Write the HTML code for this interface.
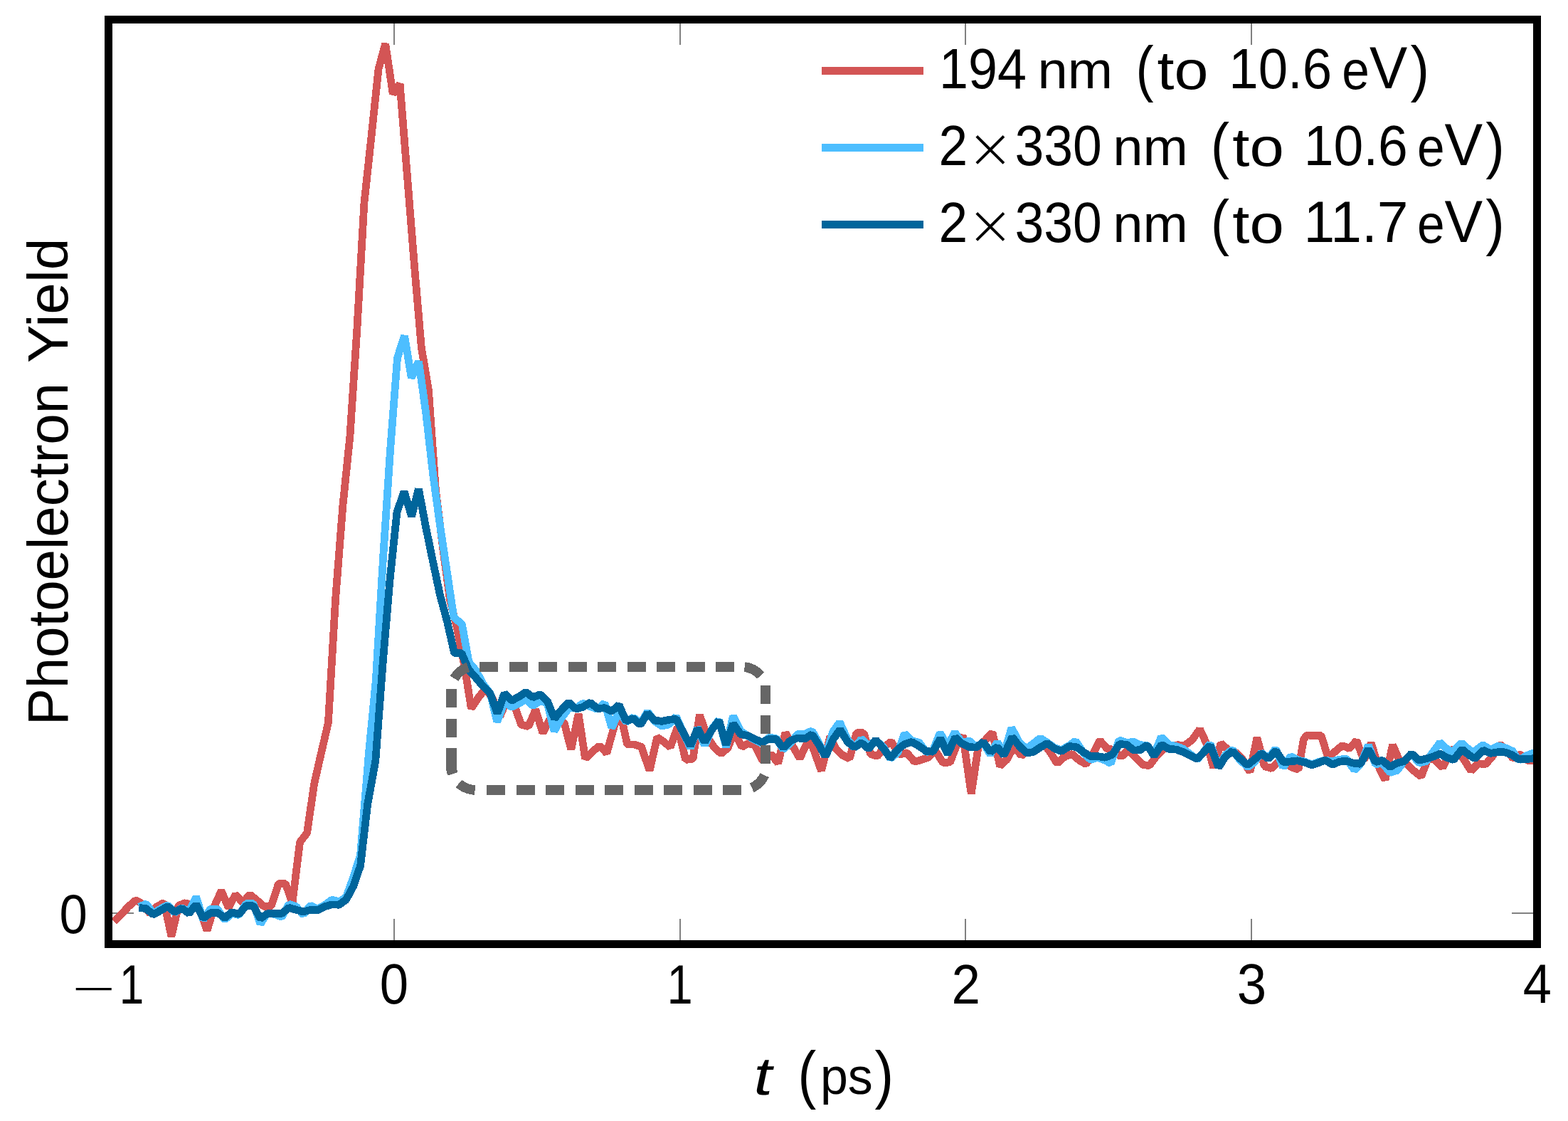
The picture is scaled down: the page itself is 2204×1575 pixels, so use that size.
<!DOCTYPE html>
<html lang="en"><head><meta charset="utf-8"><title>Photoelectron Yield</title>
<style>
html,body{margin:0;padding:0;background:#ffffff}
body{width:2204px;height:1575px}
svg{display:block}
path,rect{shape-rendering:crispEdges}
text{font-family:"Liberation Sans",sans-serif;fill:#000}
.lt{font-family:"DejaVu Sans","Liberation Sans",sans-serif;font-weight:200}
</style></head><body>
<svg width="2204" height="1575" viewBox="0 0 2204 1575">
<rect x="0" y="0" width="2204" height="1575" fill="#ffffff"/>
<path d="M554.00 1326.4 V1291.1 M554.00 27.4 V62.7 M955.60 1326.4 V1291.1 M955.60 27.4 V62.7 M1357.20 1326.4 V1291.1 M1357.20 27.4 V62.7 M1758.80 1326.4 V1291.1 M1758.80 27.4 V62.7 M152.4 1282.8 H187.7 M2160.4 1282.8 H2125.1" stroke="#808080" stroke-width="1.8" fill="none"/>
<path d="M160.5 1294.7 L170.5 1284.5 L180.6 1273.7 L190.6 1264.7 L200.7 1270.3 L210.7 1283.4 L220.8 1273.7 L230.8 1268.1 L240.9 1315.7 L250.8 1272.6 L260.9 1268.4 L270.9 1273.7 L281.0 1277.1 L291.0 1307.8 L301.1 1273.7 L311.1 1251.6 L321.2 1275.4 L331.1 1256.7 L341.2 1268.1 L351.3 1256.7 L361.3 1265.0 L371.4 1273.7 L381.4 1272.6 L391.5 1241.4 L401.4 1241.4 L410.9 1269.2 L421.5 1183.3 L431.6 1170.3 L441.6 1101.6 L451.6 1057.6 L461.4 1015.4 L471.7 840.6 L481.8 711.3 L491.9 613.3 L501.8 463.7 L511.9 285.4 L522.0 191.8 L532.0 97.2 L541.7 61.5 L552.3 132.0 L562.1 118.1 L572.2 244.2 L582.3 371.1 L592.3 488.1 L602.4 548.0 L612.5 689.1 L622.5 769.8 L632.6 843.3 L642.7 884.0 L652.8 935.1 L662.4 995.4 L672.5 980.1 L682.5 967.6 L692.6 981.8 L702.6 1006.8 L712.7 983.5 L722.8 990.9 L732.7 1018.1 L742.8 1020.7 L752.8 997.1 L762.9 1029.8 L772.9 1010.7 L783.0 1010.7 L793.0 1015.3 L802.8 1053.1 L813.1 1003.1 L822.6 1065.8 L832.6 1056.4 L842.6 1047.6 L852.8 1058.3 L861.1 1028.6 L870.7 995.8 L881.7 1046.1 L891.6 1046.1 L901.5 1049.2 L913.1 1082.7 L923.7 1035.8 L933.0 1042.2 L942.2 1049.6 L952.4 1021.8 L963.8 1067.5 L974.0 1066.1 L983.4 1004.2 L993.3 1033.7 L1003.5 1049.6 L1013.7 1058.9 L1023.3 1050.7 L1032.4 1026.9 L1042.6 1049.6 L1051.7 1044.5 L1061.3 1047.3 L1072.1 1068.9 L1084.0 1059.8 L1093.7 1072.3 L1103.9 1029.4 L1114.2 1048.3 L1124.2 1065.3 L1138.0 1036.9 L1145.4 1057.9 L1154.4 1082.9 L1166.9 1034.7 L1174.9 1051.7 L1183.9 1060.7 L1194.1 1065.8 L1203.8 1029.8 L1214.0 1029.8 L1223.6 1059.6 L1233.3 1062.4 L1243.1 1049.4 L1252.6 1041.7 L1263.9 1060.2 L1274.7 1057.6 L1285.5 1070.4 L1295.1 1067.5 L1304.7 1064.1 L1314.4 1053.9 L1325.2 1071.5 L1335.4 1071.0 L1343.9 1049.4 L1353.4 1033.5 L1365.2 1115.3 L1375.2 1049.0 L1384.8 1039.9 L1395.0 1029.1 L1405.6 1076.4 L1415.4 1067.1 L1425.1 1049.0 L1435.8 1061.7 L1445.5 1053.5 L1455.7 1044.4 L1465.9 1043.3 L1475.5 1055.8 L1485.8 1072.6 L1497.1 1062.6 L1507.3 1059.4 L1517.0 1068.3 L1526.6 1073.7 L1536.2 1059.2 L1545.9 1040.1 L1556.1 1051.8 L1565.7 1053.5 L1575.9 1063.5 L1586.1 1053.5 L1595.9 1063.7 L1606.1 1074.5 L1615.7 1075.6 L1625.4 1062.6 L1635.0 1052.4 L1644.7 1049.6 L1654.9 1046.7 L1665.1 1047.3 L1675.3 1039.9 L1686.6 1024.6 L1696.8 1046.7 L1705.9 1079.0 L1716.1 1044.2 L1726.3 1053.5 L1736.5 1056.9 L1746.7 1067.1 L1757.0 1084.7 L1766.9 1036.5 L1777.4 1076.8 L1787.6 1079.6 L1797.2 1069.4 L1806.9 1071.7 L1816.5 1078.5 L1825.0 1081.3 L1832.4 1038.8 L1837.0 1032.9 L1846.7 1033.7 L1856.9 1032.9 L1867.1 1064.9 L1876.7 1055.8 L1886.9 1047.3 L1896.6 1051.8 L1906.8 1040.5 L1917.0 1068.3 L1927.2 1043.9 L1937.4 1076.2 L1947.0 1095.7 L1957.5 1046.5 L1967.5 1069.4 L1977.7 1073.9 L1987.3 1083.0 L1997.5 1091.2 L2007.7 1064.9 L2017.9 1068.3 L2027.8 1078.2 L2035.5 1062.6 L2041.8 1051.5 L2048.9 1057.6 L2057.8 1067.3 L2067.6 1082.9 L2077.8 1072.7 L2088.0 1074.0 L2097.8 1062.9 L2108.4 1045.6 L2117.3 1054.0 L2126.7 1065.6 L2136.9 1059.8 L2148.4 1069.1 L2160.0 1068.2" stroke="#D35555" stroke-width="10.75" fill="none" stroke-linejoin="bevel" stroke-linecap="butt"/>
<path d="M195.4 1274.3 L205.4 1269.8 L215.4 1283.4 L225.4 1277.1 L235.5 1271.5 L245.5 1282.2 L255.6 1275.4 L265.6 1281.7 L275.7 1260.1 L285.7 1292.4 L295.8 1277.1 L305.7 1277.1 L315.8 1292.4 L325.8 1283.4 L335.9 1285.6 L345.9 1269.8 L356.0 1269.2 L366.0 1298.1 L376.1 1282.8 L386.0 1284.5 L396.1 1288.5 L406.2 1270.3 L416.3 1273.7 L426.3 1285.1 L436.4 1272.0 L446.4 1277.1 L456.5 1271.5 L466.4 1264.1 L476.5 1266.9 L486.5 1260.7 L496.6 1232.9 L506.6 1201.1 L518.3 1059.6 L528.3 956.2 L538.4 786.1 L548.5 633.3 L558.6 502.4 L568.6 471.8 L578.3 531.0 L588.5 507.8 L598.6 579.3 L608.7 667.0 L618.7 739.8 L628.8 806.5 L637.8 867.0 L649.4 877.2 L659.0 930.3 L669.1 942.1 L679.2 961.4 L689.2 974.6 L698.8 1014.1 L709.0 986.9 L719.1 993.2 L729.1 988.6 L739.1 982.4 L749.2 991.5 L759.3 984.7 L769.4 988.1 L779.0 1027.2 L789.5 1008.5 L799.6 994.9 L809.7 994.9 L819.6 988.1 L829.7 992.6 L839.8 996.6 L849.9 987.8 L860.0 1022.7 L870.0 999.4 L880.1 1014.4 L890.1 1007.9 L900.2 1016.7 L910.2 999.9 L920.2 1013.3 L930.3 1020.1 L940.4 1017.8 L950.4 1006.8 L960.5 1029.8 L970.5 1050.7 L980.6 1022.4 L990.6 1047.3 L1000.7 1024.1 L1010.6 1011.4 L1020.7 1049.6 L1030.4 1005.9 L1040.8 1026.9 L1050.8 1034.0 L1060.9 1039.4 L1071.0 1044.5 L1081.0 1036.2 L1091.1 1037.4 L1101.0 1053.0 L1111.1 1043.9 L1121.2 1031.3 L1131.2 1031.3 L1141.3 1026.7 L1151.4 1044.3 L1160.1 1063.0 L1170.9 1027.8 L1180.3 1014.8 L1191.5 1039.2 L1201.0 1050.8 L1210.9 1038.1 L1221.1 1048.3 L1231.0 1040.3 L1241.8 1049.4 L1251.4 1065.8 L1261.9 1057.3 L1271.5 1030.7 L1281.5 1040.9 L1292.0 1043.2 L1302.1 1056.8 L1311.5 1054.5 L1321.4 1029.6 L1331.6 1048.3 L1342.2 1029.0 L1352.4 1043.7 L1362.5 1040.7 L1372.4 1049.6 L1382.0 1043.3 L1392.0 1060.1 L1401.8 1042.4 L1411.2 1059.2 L1421.9 1022.7 L1432.8 1043.3 L1442.9 1051.8 L1452.9 1044.2 L1462.3 1037.1 L1472.1 1043.3 L1482.4 1050.7 L1492.0 1053.7 L1503.1 1047.3 L1511.8 1041.0 L1523.2 1058.1 L1533.1 1067.4 L1543.4 1064.3 L1553.4 1068.3 L1561.2 1072.6 L1573.1 1039.7 L1583.5 1043.3 L1593.6 1042.4 L1602.7 1046.7 L1612.3 1047.3 L1622.2 1059.8 L1632.4 1035.1 L1643.0 1046.7 L1653.2 1048.4 L1663.4 1052.4 L1673.6 1060.1 L1683.0 1067.1 L1691.7 1056.7 L1701.1 1044.7 L1712.9 1077.6 L1722.4 1060.9 L1732.0 1053.0 L1742.8 1067.7 L1754.1 1077.9 L1763.2 1070.8 L1772.8 1057.5 L1783.0 1065.4 L1793.2 1051.8 L1803.7 1078.2 L1814.2 1062.6 L1823.9 1067.7 L1833.6 1070.0 L1843.8 1074.2 L1853.5 1070.3 L1862.5 1068.3 L1873.3 1069.6 L1883.0 1067.1 L1892.6 1066.2 L1903.9 1082.1 L1913.6 1071.7 L1923.4 1047.1 L1933.4 1073.9 L1943.1 1071.9 L1953.8 1085.5 L1964.1 1082.4 L1974.3 1068.3 L1983.9 1059.4 L1994.7 1071.9 L2004.9 1069.6 L2014.5 1056.4 L2024.2 1043.1 L2033.2 1051.8 L2041.2 1056.4 L2054.2 1043.8 L2062.7 1051.3 L2070.7 1057.1 L2084.3 1046.7 L2094.9 1053.3 L2106.2 1047.8 L2116.4 1050.9 L2126.2 1055.3 L2134.7 1068.0 L2144.9 1062.0 L2160.0 1056.2" stroke="#4DBEFF" stroke-width="10.75" fill="none" stroke-linejoin="bevel" stroke-linecap="butt"/>
<path d="M195.4 1275.4 L205.4 1276.6 L215.4 1285.1 L225.4 1279.4 L235.5 1273.7 L245.5 1281.1 L255.6 1276.2 L265.6 1283.4 L275.7 1270.9 L285.7 1290.2 L295.8 1282.8 L305.7 1282.2 L315.8 1289.6 L325.8 1281.7 L335.9 1284.5 L345.9 1272.6 L356.0 1272.6 L366.0 1290.7 L376.1 1283.4 L386.0 1283.9 L396.1 1283.4 L406.2 1275.4 L416.3 1278.3 L426.3 1281.1 L436.4 1278.3 L446.4 1278.8 L456.5 1273.7 L466.4 1270.9 L476.5 1271.2 L486.5 1264.1 L496.6 1245.4 L506.6 1216.4 L516.7 1130.0 L527.8 1069.3 L537.9 934.4 L547.9 816.1 L558.0 719.4 L568.1 690.8 L578.6 725.5 L588.4 686.8 L598.4 739.8 L608.5 788.8 L618.6 836.5 L628.7 873.8 L638.7 918.1 L648.8 917.6 L658.9 941.2 L668.9 952.3 L679.0 964.2 L689.0 974.2 L699.1 1002.5 L709.0 974.2 L719.1 984.4 L729.1 979.0 L739.1 972.4 L749.2 979.8 L759.3 975.6 L769.4 985.2 L779.4 1009.6 L789.5 997.1 L799.6 986.9 L809.7 996.2 L819.6 993.2 L829.7 986.9 L839.8 995.7 L849.9 994.6 L860.0 999.2 L870.0 990.3 L880.1 1013.3 L890.1 1009.3 L900.2 1018.4 L910.2 1002.0 L920.2 1012.2 L930.3 1013.3 L940.4 1011.3 L950.4 1010.1 L960.5 1029.2 L970.5 1047.9 L980.6 1023.7 L990.6 1042.6 L1000.7 1025.2 L1010.6 1012.4 L1020.7 1046.8 L1030.7 1016.7 L1040.8 1031.5 L1050.8 1033.5 L1060.9 1038.3 L1071.0 1043.0 L1081.0 1038.3 L1091.1 1038.5 L1101.0 1050.7 L1111.1 1040.5 L1121.2 1036.9 L1131.2 1038.1 L1141.3 1031.8 L1151.4 1047.1 L1160.1 1062.8 L1171.5 1038.1 L1180.8 1025.0 L1191.5 1042.6 L1201.0 1050.0 L1210.9 1043.7 L1221.1 1052.2 L1231.0 1039.4 L1241.8 1051.7 L1251.4 1065.3 L1261.9 1052.8 L1272.0 1045.4 L1281.5 1042.4 L1292.0 1048.3 L1302.1 1055.6 L1311.5 1056.2 L1321.8 1037.5 L1332.0 1059.4 L1342.7 1036.0 L1352.4 1044.9 L1362.5 1049.6 L1372.4 1050.1 L1382.0 1042.4 L1392.2 1056.4 L1401.8 1049.6 L1411.2 1061.2 L1422.8 1035.4 L1432.8 1048.4 L1442.9 1058.1 L1452.9 1056.4 L1463.0 1049.6 L1472.1 1044.4 L1482.4 1051.8 L1492.0 1055.6 L1503.1 1048.4 L1513.2 1049.6 L1523.2 1056.9 L1533.3 1062.8 L1543.4 1062.6 L1553.4 1064.3 L1563.5 1060.3 L1573.4 1045.6 L1583.5 1046.1 L1593.6 1054.1 L1602.7 1053.7 L1612.3 1046.7 L1622.2 1062.0 L1632.7 1046.1 L1643.0 1052.4 L1653.2 1053.0 L1663.4 1056.7 L1673.6 1062.0 L1683.0 1066.2 L1691.7 1056.9 L1701.1 1047.3 L1712.9 1078.2 L1722.4 1063.2 L1732.0 1055.6 L1742.8 1065.4 L1753.5 1074.8 L1763.2 1067.1 L1772.8 1058.6 L1783.0 1066.2 L1793.2 1054.7 L1804.0 1070.8 L1813.7 1070.0 L1823.9 1068.8 L1833.6 1071.1 L1843.8 1074.8 L1853.5 1071.7 L1862.5 1068.0 L1873.3 1074.2 L1883.0 1070.0 L1892.6 1069.4 L1902.8 1072.2 L1912.4 1073.4 L1923.4 1052.7 L1933.4 1070.5 L1943.1 1068.3 L1953.8 1077.6 L1964.1 1071.9 L1974.3 1069.4 L1983.9 1058.6 L1994.7 1068.3 L2004.9 1065.8 L2014.5 1063.2 L2024.2 1059.0 L2033.2 1064.3 L2043.2 1067.7 L2055.0 1052.7 L2064.0 1060.2 L2072.9 1065.7 L2084.9 1054.2 L2095.1 1058.4 L2104.9 1056.8 L2114.7 1056.8 L2124.4 1060.2 L2134.2 1066.6 L2144.0 1066.6 L2160.0 1065.4" stroke="#00659B" stroke-width="10.75" fill="none" stroke-linejoin="bevel" stroke-linecap="butt"/>
<path d="M674.1 937 H700.0 M715.6 937 H741.5 M757.1 937 H783.0 M798.6 937 H824.5 M840.1 937 H866.0 M881.6 937 H907.5 M923.2 937 H949.0 M964.7 937 H990.5 M1006.2 937 H1032.0 M684.1 1110 H710.0 M725.6 1110 H751.5 M767.1 1110 H793.0 M808.6 1110 H834.5 M850.1 1110 H876.0 M891.6 1110 H917.5 M933.1 1110 H959.0 M974.6 1110 H1000.5 M1016.1 1110 H1042.0 M1076 963.3 V989.2 M1076 1005.0 V1031.0 M1076 1046.8 V1072.7 M658 937.4 A36 36 0 0 0 638.5 953.2 M1046.7 937 A36 36 0 0 1 1069.3 949.1 M1074.6 1089.2 A36 36 0 0 1 1056.8 1106.9 M645 1100.9 A36 36 0 0 0 662 1109.3 L667.6 1110" stroke="#666666" stroke-width="13.7" fill="none" stroke-linecap="butt"/>
<path d="M634.4 968.2 V993.8 M634.4 1010.2 V1035.8 M634.4 1051.1 V1076 A36 36 0 0 0 636.2 1087.3" stroke="#666666" stroke-width="14.8" fill="none" stroke-linecap="butt"/>
<rect x="152.4" y="27.4" width="2008.0" height="1299.0" fill="none" stroke="#000" stroke-width="10.75"/>
<path d="M1155 99.4 H1297.8" stroke="#D35555" stroke-width="10.75" fill="none"/>
<path d="M1155 207.4 H1297.8" stroke="#4DBEFF" stroke-width="10.75" fill="none"/>
<path d="M1155 315.3 H1297.8" stroke="#00659B" stroke-width="10.75" fill="none"/>
<text><tspan x="1320.02" y="124.15" font-size="79.39" textLength="122.90" lengthAdjust="spacingAndGlyphs">194</tspan> <tspan x="1458.54" y="124.25" font-size="74.38" textLength="105.55" lengthAdjust="spacingAndGlyphs">nm</tspan> <tspan x="1596.59" y="125.78" font-size="86.80" textLength="25.07" lengthAdjust="spacingAndGlyphs">(</tspan><tspan x="1626.62" y="124.65" font-size="75.52" textLength="71.97" lengthAdjust="spacingAndGlyphs">to</tspan> <tspan x="1727.33" y="124.15" font-size="79.39" textLength="144.85" lengthAdjust="spacingAndGlyphs">10.6</tspan> <tspan x="1886.28" y="124.66" font-size="75.73" textLength="38.61" lengthAdjust="spacingAndGlyphs">e</tspan><tspan x="1925.07" y="124.25" font-size="83.41" textLength="53.19" lengthAdjust="spacingAndGlyphs">V</tspan><tspan x="1982.54" y="125.78" font-size="86.80" textLength="26.63" lengthAdjust="spacingAndGlyphs">)</tspan></text>
<text><tspan x="1319.57" y="232.25" font-size="79.87" textLength="40.66" lengthAdjust="spacingAndGlyphs">2</tspan><tspan x="1358.86" y="235.16" font-size="77.45" textLength="66.26" lengthAdjust="spacingAndGlyphs" class="lt">×</tspan><tspan x="1426.52" y="232.15" font-size="79.38" textLength="122.32" lengthAdjust="spacingAndGlyphs">330</tspan> <tspan x="1564.29" y="232.25" font-size="74.38" textLength="105.68" lengthAdjust="spacingAndGlyphs">nm</tspan> <tspan x="1701.85" y="233.78" font-size="86.80" textLength="26.34" lengthAdjust="spacingAndGlyphs">(</tspan><tspan x="1732.33" y="232.65" font-size="75.52" textLength="72.42" lengthAdjust="spacingAndGlyphs">to</tspan> <tspan x="1832.78" y="232.15" font-size="79.51" textLength="146.09" lengthAdjust="spacingAndGlyphs">10.6</tspan> <tspan x="1992.03" y="232.66" font-size="75.73" textLength="38.61" lengthAdjust="spacingAndGlyphs">e</tspan><tspan x="2030.54" y="232.25" font-size="83.41" textLength="53.59" lengthAdjust="spacingAndGlyphs">V</tspan><tspan x="2088.29" y="233.78" font-size="86.80" textLength="26.63" lengthAdjust="spacingAndGlyphs">)</tspan></text>
<text><tspan x="1319.57" y="340.25" font-size="79.87" textLength="40.66" lengthAdjust="spacingAndGlyphs">2</tspan><tspan x="1358.86" y="343.16" font-size="77.45" textLength="66.26" lengthAdjust="spacingAndGlyphs" class="lt">×</tspan><tspan x="1426.52" y="340.15" font-size="79.38" textLength="122.32" lengthAdjust="spacingAndGlyphs">330</tspan> <tspan x="1564.29" y="340.25" font-size="74.38" textLength="105.68" lengthAdjust="spacingAndGlyphs">nm</tspan> <tspan x="1701.85" y="341.78" font-size="86.80" textLength="26.34" lengthAdjust="spacingAndGlyphs">(</tspan><tspan x="1732.33" y="340.65" font-size="75.52" textLength="72.42" lengthAdjust="spacingAndGlyphs">to</tspan> <tspan x="1832.51" y="340.25" font-size="81.38" textLength="147.06" lengthAdjust="spacingAndGlyphs">11.7</tspan> <tspan x="1992.03" y="340.66" font-size="75.73" textLength="38.61" lengthAdjust="spacingAndGlyphs">e</tspan><tspan x="2030.54" y="340.25" font-size="83.41" textLength="53.59" lengthAdjust="spacingAndGlyphs">V</tspan><tspan x="2088.29" y="341.78" font-size="86.80" textLength="26.63" lengthAdjust="spacingAndGlyphs">)</tspan></text>
<text><tspan x="98.12" y="1415.17" font-size="80.00" textLength="67.02" lengthAdjust="spacingAndGlyphs" class="lt">−</tspan><tspan x="167.76" y="1409.60" font-size="78.45" textLength="34.54" lengthAdjust="spacingAndGlyphs">1</tspan></text>
<text><tspan x="533.81" y="1409.64" font-size="80.10" textLength="40.34" lengthAdjust="spacingAndGlyphs">0</tspan></text>
<text><tspan x="937.54" y="1409.60" font-size="78.45" textLength="36.21" lengthAdjust="spacingAndGlyphs">1</tspan></text>
<text><tspan x="1337.60" y="1409.60" font-size="78.59" textLength="40.44" lengthAdjust="spacingAndGlyphs">2</tspan></text>
<text><tspan x="1738.63" y="1409.58" font-size="79.53" textLength="41.44" lengthAdjust="spacingAndGlyphs">3</tspan></text>
<text><tspan x="2140.83" y="1409.11" font-size="78.58" textLength="40.12" lengthAdjust="spacingAndGlyphs">4</tspan></text>
<text><tspan x="83.42" y="1310.64" font-size="78.59" textLength="39.32" lengthAdjust="spacingAndGlyphs">0</tspan></text>
<text transform="translate(1055.31 1537.91) skewX(-12)" x="0" y="0" font-size="75.29" textLength="25.85" lengthAdjust="spacingAndGlyphs">t</text>
<text><tspan x="1121.55" y="1539.56" font-size="89.44" textLength="25.73" lengthAdjust="spacingAndGlyphs">(</tspan><tspan x="1152.89" y="1536.99" font-size="71.54" textLength="73.97" lengthAdjust="spacingAndGlyphs">ps</tspan><tspan x="1229.54" y="1539.56" font-size="89.44" textLength="26.66" lengthAdjust="spacingAndGlyphs">)</tspan></text>
<text transform="translate(94.90 1012.90) rotate(-90)"><tspan x="-6.42" y="0.00" font-size="78.92" textLength="481.47" lengthAdjust="spacingAndGlyphs">Photoelectron</tspan> <tspan x="502.86" y="0.00" font-size="78.92" textLength="175.34" lengthAdjust="spacingAndGlyphs">Yield</tspan></text>
</svg>
</body></html>
